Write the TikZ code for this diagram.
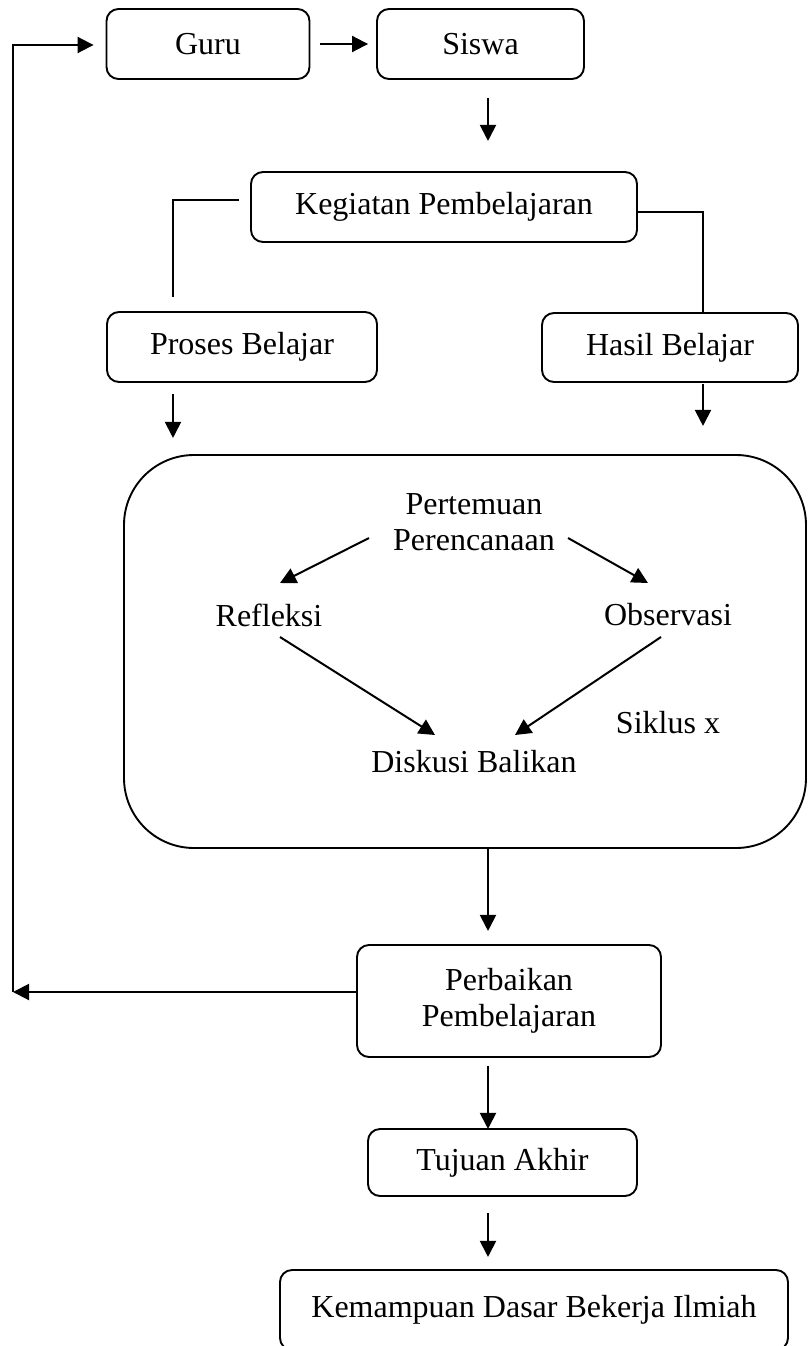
\documentclass[tikz,border=0pt]{standalone}
\usepackage{fontspec}
\setmainfont{Liberation Serif}
\usetikzlibrary{arrows.meta}
\begin{document}
\begin{tikzpicture}[x=1pt,y=-1pt,
  box/.style={draw, line width=1.9pt, rounded corners=12pt, align=center, inner sep=0pt},
  lbl/.style={align=center, inner sep=0pt},
  arr/.style={line width=2pt, -{Triangle[length=16pt,width=16pt]}},
  conn/.style={line width=1.9pt},
  font=\fontsize{32}{36}\selectfont]
\clip (0,0) rectangle (808,1346);
% boxes
\node[box, minimum width=203pt, minimum height=70pt] (guru) at (208,44) {Guru};
\node[box, minimum width=207pt, minimum height=70pt] (siswa) at (480.5,44) {Siswa};
\node[box, minimum width=386pt, minimum height=70pt] (kegiatan) at (444,207) {Kegiatan Pembelajaran};
\node[box, minimum width=270pt, minimum height=70pt] (proses) at (242,347) {Proses Belajar};
\node[box, minimum width=256pt, minimum height=69pt] (hasil) at (670,347.5) {Hasil Belajar};
\node[box, rounded corners=70pt, minimum width=682pt, minimum height=393pt] (cyc) at (465,651.5) {};
\node[lbl] (pert) at (474,522) {Pertemuan\\Perencanaan};
\node[lbl] (refleksi) at (269,615) {Refleksi};
\node[lbl] (observasi) at (668,615) {Observasi};
\node[lbl] (siklusx) at (668,723) {Siklus x};
\node[lbl] (diskusi) at (474,762) {Diskusi Balikan};
\node[box, minimum width=304pt, minimum height=112pt] (perbaikan) at (509,1001) {Perbaikan\\Pembelajaran};
\node[box, minimum width=269pt, minimum height=67pt] (tujuan) at (502.5,1162.5) {Tujuan Akhir};
\node[box, minimum width=508pt, minimum height=80pt] (kemampuan) at (534,1310) {Kemampuan Dasar Bekerja Ilmiah};
% connectors
\draw[arr, shorten <=10pt, shorten >=8pt] (guru) -- (siswa);
\draw[arr] ([xshift=7.5pt,yshift=-18pt]siswa.south) -- ([xshift=7.5pt,yshift=-61pt]siswa.south);
\draw[conn] ([xshift=-11pt,yshift=7pt]kegiatan.west) -| ([xshift=-69pt,yshift=14pt]proses.north);
\draw[conn] ([yshift=-5pt]kegiatan.east) -| ([xshift=33pt]hasil.north);
\draw[arr] ([xshift=-69pt,yshift=-11pt]proses.south) -- ([xshift=-69pt,yshift=-55pt]proses.south);
\draw[arr] ([xshift=33pt,yshift=-1pt]hasil.south) -- ([xshift=33pt,yshift=-43pt]hasil.south);
\draw[arr] ([xshift=-105pt,yshift=-16pt]pert.center) -- ([xshift=11pt,yshift=32pt]refleksi.center);
\draw[arr] ([xshift=94pt,yshift=-16pt]pert.center) -- ([xshift=-20pt,yshift=32pt]observasi.center);
\draw[arr] ([xshift=11pt,yshift=-22pt]refleksi.center) -- ([xshift=-39pt,yshift=27pt]diskusi.center);
\draw[arr] ([xshift=-7pt,yshift=-22pt]observasi.center) -- ([xshift=41pt,yshift=27pt]diskusi.center);
\draw[arr] ([xshift=23pt]cyc.south) -- ([xshift=23pt,yshift=-82pt]cyc.south);
\draw[arr] ([xshift=-21pt,yshift=-8pt]perbaikan.south) -- ([xshift=-21pt,yshift=-71pt]perbaikan.south);
\draw[arr] ([xshift=-14.5pt,yshift=-16pt]tujuan.south) -- ([xshift=-14.5pt,yshift=-60pt]tujuan.south);
% feedback loop
\coordinate (lb) at (13,992);
\coordinate (lt) at (13,45);
\draw[arr] ([yshift=9pt]perbaikan.west) -- (lb);
\draw[arr, shorten >=12pt] (lb) -- (lt) -- (lt -| guru.west);
\end{tikzpicture}
\end{document}
